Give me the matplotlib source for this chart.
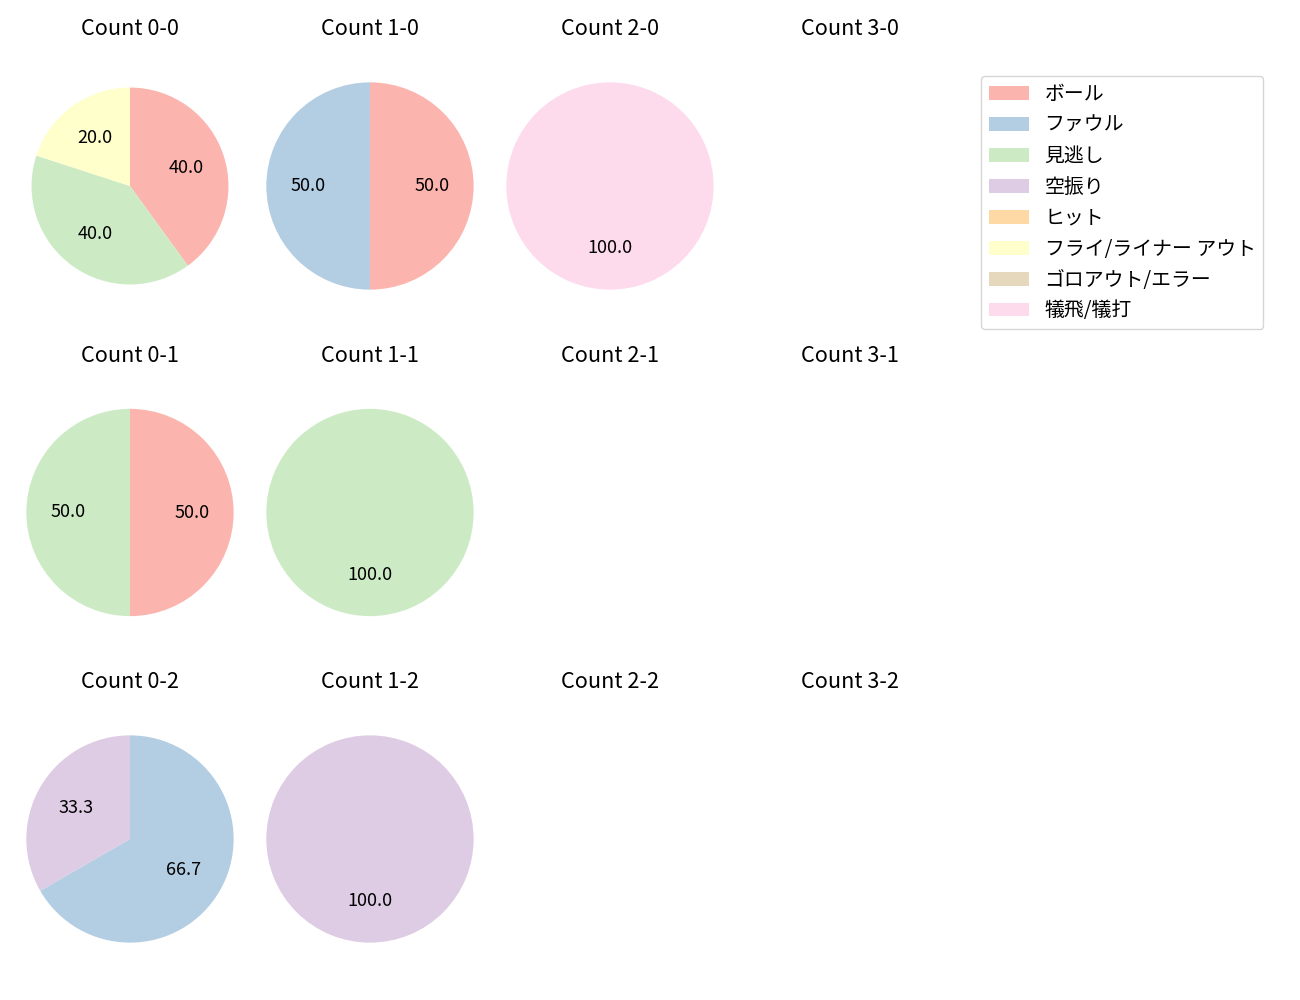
import numpy as np
import matplotlib.pyplot as plt
from matplotlib.patches import Patch

plt.rcParams['font.family'] = ['Noto Sans CJK JP', 'DejaVu Sans']

labels = ['ボール', 'ファウル', '見逃し', '空振り', 'ヒット',
          'フライ/ライナー アウト', 'ゴロアウト/エラー', '犠飛/犠打']
colors = plt.cm.Pastel1(np.arange(8))

# pitch result counts per ball-strike count (balls, strikes)
counts = {
    (0, 0): [2, 0, 2, 0, 0, 1, 0, 0],
    (1, 0): [1, 1, 0, 0, 0, 0, 0, 0],
    (2, 0): [0, 0, 0, 0, 0, 0, 0, 1],
    (0, 1): [1, 0, 1, 0, 0, 0, 0, 0],
    (1, 1): [0, 0, 1, 0, 0, 0, 0, 0],
    (0, 2): [0, 2, 0, 1, 0, 0, 0, 0],
    (1, 2): [0, 0, 0, 1, 0, 0, 0, 0],
}

fig, axes = plt.subplots(3, 4, figsize=(13, 10))
fig.subplots_adjust(left=0.0123, right=0.7415, top=0.954, bottom=0.021,
                    wspace=0.0526, hspace=0.166)

for s in range(3):
    for b in range(4):
        ax = axes[s, b]
        ax.set_title(f'Count {b}-{s}', fontsize=15.6, pad=7.8)
        vals = counts.get((b, s))
        if vals is None:
            ax.axis('off')
            continue
        vals = np.array(vals, dtype=float)
        idx = np.nonzero(vals)[0]
        r = 0.95 if (b, s) == (0, 0) else 1.0
        ax.pie(vals[idx], colors=colors[idx], startangle=90, counterclock=False,
               autopct='%.1f', radius=r, textprops={'fontsize': 13})
        ax.set_aspect('equal', adjustable='datalim')
        ax.set_xlim(-1.1, 1.1)
        ax.set_ylim(-1.1, 1.1)

handles = [Patch(facecolor=c) for c in colors]
fig.legend(handles, labels, loc='upper left', bbox_to_anchor=(0.7546, 0.924),
           borderaxespad=0, fontsize=14.3)

fig.savefig('out.png', dpi=100)
